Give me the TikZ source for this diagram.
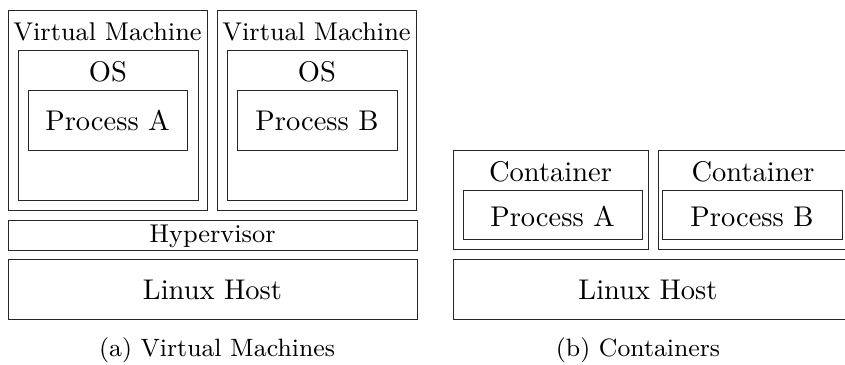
\documentclass[tikz,border=0pt]{standalone}
\begin{document}
\begin{tikzpicture}[x=0.3509pt,y=-0.3509pt,
  frame/.style={draw=black!85,line width=0.35pt},
  lbl/.style={anchor=base,inner sep=0pt,font=\fontsize{10}{12}\selectfont},
  smalllbl/.style={anchor=base,inner sep=0pt,font=\fontsize{9}{11}\selectfont},
  caplbl/.style={anchor=base,inner sep=0pt,font=\fontsize{8.8}{11}\selectfont}]
\useasboundingbox (0,0) rectangle (845,365);
\begin{scope}
\clip (0,0) rectangle (845,365);
% (a) Virtual machines
\draw[frame] (8,11) rectangle (207,211);
\draw[frame] (18,51) rectangle (198,201);
\draw[frame] (28,91) rectangle (187,151);
\draw[frame] (217,11) rectangle (416,211);
\draw[frame] (227,51) rectangle (407,201);
\draw[frame] (237,91) rectangle (397,151);
\draw[frame] (8,221) rectangle (417,251);
\draw[frame] (8,260) rectangle (417,320);
\node[smalllbl] (vm1) at (107.5,40.5) {Virtual Machine};
\node[smalllbl] (vm2) at (316.5,40.5) {Virtual Machine};
\node[lbl] (os1) at (108,81.5) {OS};
\node[lbl] (os2) at (317,81.5) {OS};
\node[lbl] (pa) at (107.5,131) {Process A};
\node[lbl] (pb) at (317,131) {Process B};
\node[smalllbl] (hyp) at (212.5,243) {Hypervisor};
\node[lbl] (lha) at (212.5,300) {Linux Host};
\node[caplbl] (capa) at (217,357) {(a) Virtual Machines};
% (b) Containers
\draw[frame] (453,151) rectangle (648,250);
\draw[frame] (463,191) rectangle (642,240);
\draw[frame] (658,151) rectangle (848,250);
\draw[frame] (662,191) rectangle (842,240);
\draw[frame] (453,260) rectangle (848,320);
\node[lbl] (c1) at (550.5,181.5) {Container};
\node[lbl] (c2) at (753,181.5) {Container};
\node[lbl] (cpa) at (552.5,227) {Process A};
\node[lbl] (cpb) at (752,227) {Process B};
\node[lbl] (lhb) at (648,300) {Linux Host};
\node[caplbl] (capb) at (638,357) {(b) Containers};
\end{scope}
\end{tikzpicture}
\end{document}
